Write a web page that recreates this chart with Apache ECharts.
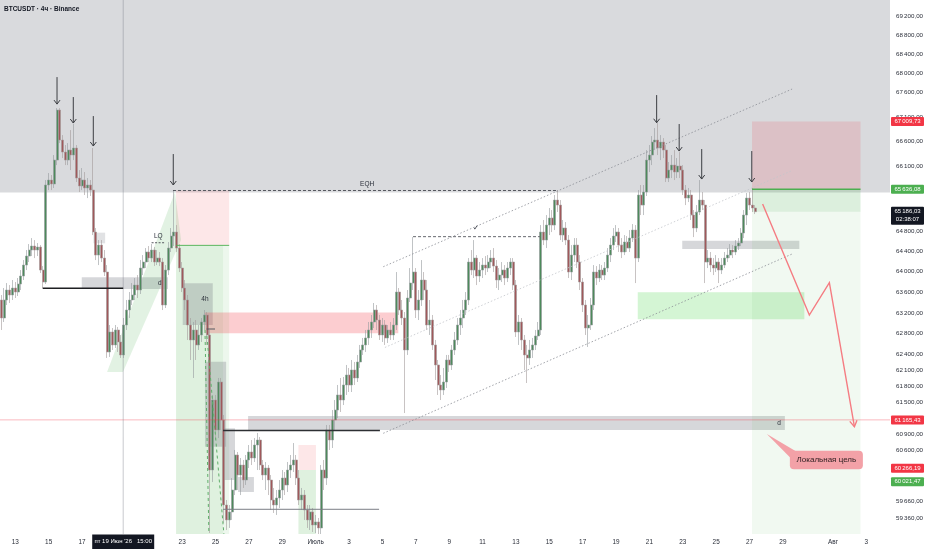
<!DOCTYPE html>
<html><head><meta charset="utf-8">
<script src="https://cdn.jsdelivr.net/npm/echarts@6/dist/echarts.min.js"></script>
<style>html,body{margin:0;padding:0;background:#fff}#c{width:932px;height:550px}</style>
</head><body><div id="c"></div>
<script>
// ---------- DATA (BTCUSDT 4h, Binance) ----------
const openP = [
63449,63101,63449,63643,63546,63682,63604,63760,63916,64131,
64308,64426,64505,64426,64485,64033,63799,65720,65820,65740,
66223,67243,66629,66385,66223,66426,66325,66467,65860,65700,
65820,65660,65720,65619,64781,64327,64524,64268,63994,62449,
62832,62583,62870,62640,62392,62966,63255,63449,63546,63740,
63643,64072,64190,64387,64268,64426,64190,64268,64190,63352,
64033,64465,64702,64781,64465,64072,63682,63449,62966,62678,
62870,62583,62774,63024,63159,62774,60235,61538,60977,61878,
61163,59594,59322,59467,59868,60512,60143,60327,60051,60420,
60568,60457,60697,60790,60327,60143,60272,60051,59685,59594,
59722,59868,60088,59960,60235,60327,60420,60088,59685,59776,
59503,59322,59467,59231,59286,59177,60235,60088,60977,60790,
61163,61350,61633,61538,61822,62011,61822,62106,61954,62258,
62487,62583,62717,62870,63024,63255,63062,62774,62966,62717,
62870,62774,62966,63604,63255,63101,62487,63488,63779,63994,
63255,63449,63838,63643,62966,63062,62583,62201,61822,61727,
61878,62296,62201,62487,62678,62966,63101,63255,63449,64190,
64033,64268,63916,64033,64131,64072,64190,64268,64111,63838,
63935,64033,63877,64072,64190,63740,62832,63024,62678,62392,
62335,62487,62583,62755,62870,64781,64623,64920,65060,64920,
65418,65318,64722,64861,64623,63994,64327,64524,64190,63799,
63352,62908,62966,63352,63994,63877,64033,63935,64072,64327,
64524,64702,64781,64524,64387,64584,64465,64662,64821,64268,
65519,65318,65579,66223,66325,66588,66629,66467,66588,66426,
65860,66021,66122,65981,66102,66021,65619,65458,65519,65119,
64861,65179,65418,65318,64190,64268,64131,64072,64190,64033,
64131,64268,64327,64426,64387,64505,64564,64762,65119,65458,
65318,65259];
const closeP = [
63101,63449,63643,63546,63682,63604,63760,63916,64131,64308,
64426,64505,64426,64485,64033,63799,65720,65820,65740,66223,
67243,66629,66385,66223,66426,66325,66467,65860,65700,65820,
65660,65720,65619,64781,64327,64524,64268,63994,62449,62832,
62583,62870,62640,62392,62966,63255,63449,63546,63740,63643,
64072,64190,64387,64268,64426,64190,64268,64190,63352,64033,
64465,64702,64781,64465,64072,63682,63449,62966,62678,62870,
62583,62774,63024,63159,62774,60235,61538,60977,61878,61163,
59594,59322,59467,59868,60512,60143,60327,60051,60420,60568,
60457,60697,60790,60327,60143,60272,60051,59685,59594,59722,
59868,60088,59960,60235,60327,60420,60088,59685,59776,59503,
59322,59467,59231,59286,59177,60235,60088,60977,60790,61163,
61350,61633,61538,61822,62011,61822,62106,61954,62258,62487,
62583,62717,62870,63024,63255,63062,62774,62966,62717,62870,
62774,62966,63604,63255,63101,62487,63488,63779,63994,63255,
63449,63838,63643,62966,63062,62583,62201,61822,61727,61878,
62296,62201,62487,62678,62966,63101,63255,63449,64190,64033,
64268,63916,64033,64131,64072,64190,64268,64111,63838,63935,
64033,63877,64072,64190,63740,62832,63024,62678,62392,62335,
62487,62583,62755,62870,64781,64623,64920,65060,64920,65418,
65318,64722,64861,64623,63994,64327,64524,64190,63799,63352,
62908,62966,63352,63994,63877,64033,63935,64072,64327,64524,
64702,64781,64524,64387,64584,64465,64662,64821,64268,65519,
65318,65579,66223,66325,66588,66629,66467,66588,66426,65860,
66021,66122,65981,66102,66021,65619,65458,65519,65119,64861,
65179,65418,65318,64190,64268,64131,64072,64190,64033,64131,
64268,64327,64426,64387,64505,64564,64762,65119,65458,65318,
65259,65186];
const lowP = [
62870,63024,63352,63391,63449,63488,63527,63643,63838,64033,
64190,64308,64268,64308,63975,63682,63760,65619,65619,65660,
66122,66568,66264,66122,66122,66021,66223,65780,65579,65619,
65519,65458,65499,64722,64229,64131,64190,63916,62335,62354,
62487,62525,62449,62335,62335,62870,63101,63352,63449,63488,
63566,63935,64072,64190,64190,64111,64131,64111,63255,63294,
63935,64387,64505,64387,63994,63604,63255,62678,62296,61954,
62296,62487,62640,62870,62583,59086,60014,60790,60827,60977,
59268,59140,59177,59322,59776,59868,59776,59905,59960,60272,
60327,60383,60235,60235,60051,59868,59776,59503,59449,59413,
59540,59685,59776,59831,60088,60198,59960,59594,59503,59322,
59177,59140,59104,59086,59068,59068,59868,59960,60605,60642,
60977,61200,61313,61444,61633,61689,61689,61822,61878,62144,
62392,62449,62583,62717,62908,62870,62678,62640,62583,62621,
62678,62678,62870,63159,62966,61294,62392,63410,63643,63101,
63062,63333,63449,62870,62774,62487,61916,61633,61538,61633,
61765,62068,62106,62392,62583,62774,62908,63159,63352,63935,
63877,63740,63799,63877,63935,63994,64072,63994,63682,63643,
63799,63740,63799,63935,63643,62736,62583,62487,62106,61859,
62201,62335,62487,62678,62774,64524,64465,64722,64781,64821,
65179,64623,64584,64524,63877,63838,64190,64072,63643,63216,
62774,62545,62870,63255,63740,63799,63838,63838,63994,64190,
64426,64584,64387,64268,64327,64387,64387,64584,63779,64190,
65119,65119,65499,65981,66122,66426,66325,66223,66264,65780,
65780,65860,65820,65860,65860,65519,65318,65378,65020,64682,
64781,65119,65219,63779,64072,63994,63935,63994,63779,63955,
64072,64190,64268,64268,64327,64426,64505,64662,64920,65219,
65179,65139];
const highP = [
63546,63682,63779,63740,63838,63799,63877,64033,64229,64426,
64544,64662,64623,64564,64524,64111,65820,65961,65921,66325,
67284,67284,66731,66528,66568,66833,66957,66528,66021,66062,
65981,65860,65820,66467,64861,64623,64623,64426,64131,62966,
62908,62966,62928,62774,63101,63449,63604,63779,63877,63935,
64229,64327,64465,64505,64544,64485,64426,64387,64268,64131,
64584,64861,65619,64920,64544,64190,63838,63546,63101,63024,
63062,62966,63101,63255,63216,62870,61633,61633,61954,61954,
61257,59685,59594,60088,60605,60568,60457,60420,60512,60697,
60790,60827,60921,60846,60420,60383,60327,60143,59905,59868,
60051,60235,60198,60383,60512,60734,60512,60235,59905,59868,
59594,59594,59540,59413,59358,60327,60420,61070,61070,61350,
61538,61822,61954,61973,62201,62144,62296,62258,62392,62583,
62717,62870,63024,63159,63391,63352,63159,63101,63062,62966,
63024,63101,63994,63682,63449,63216,63643,64072,64682,64072,
63643,64229,63994,63838,63449,63159,62678,62296,62011,62144,
62392,62392,62583,62832,63101,63255,63449,63604,64268,64426,
64623,64327,64190,64268,64308,64327,64426,64465,64229,64072,
64190,64131,64190,64268,64268,63838,63159,63101,62774,62583,
62678,62717,62870,63024,64920,65020,65119,65259,65219,65519,
65619,65418,65020,64980,64722,64524,64662,64662,64327,63877,
63449,63159,63488,64131,64111,64150,64131,64190,64465,64662,
64861,64920,64861,64662,64722,64702,64821,64940,64920,65619,
65720,65720,66426,66528,66711,66874,66977,66731,66670,66528,
66183,66325,66426,66264,66385,66122,65720,65660,65619,65219,
65318,65820,65579,65418,64426,64387,64268,64327,64268,64268,
64387,64465,64544,64524,64623,64662,64861,65219,65559,65579,
65660,65318];

// price-axis tick labels and x-axis tick labels
const yTicks = [69200,68800,68400,68000,67600,67100,66600,66100,64800,64400,64000,63600,63200,62800,62400,62100,61800,61500,60900,60600,59660,59360];
const xTickDates = ['2026-06-13','2026-06-15','2026-06-17','2026-06-23','2026-06-25','2026-06-27','2026-06-29','2026-07-01','2026-07-03','2026-07-05','2026-07-07','2026-07-09','2026-07-11','2026-07-13','2026-07-15','2026-07-17','2026-07-19','2026-07-21','2026-07-23','2026-07-25','2026-07-27','2026-07-29','2026-08-01','2026-08-03'];
const xTickLabels = ['13','15','17','23','25','27','29','Июль','3','5','7','9','11','13','15','17','19','21','23','25','27','29','Авг','3'];

// price tags on the right scale
const tagValues = [67009.73, 65636.08, 61165.43, 60266.19, 60021.47];
const tagKinds  = ['r','g','r','r','g'];
const lastPrice = 65186.03;
const countdown = '02:38:07';

// ---------- AXIS STRUCTURE ----------
const START = Date.UTC(2026,5,12,4);
const STEP = 4*3600*1000;
const NCAT = 320;
const categories = [];
for (let i=0;i<NCAT;i++){ const d=new Date(START+i*STEP); categories.push(d.toISOString().slice(0,13)); }
const tickMap = {};
xTickDates.forEach((d,k)=>{ const idx=Math.round((Date.parse(d+'T00:00:00Z')-START)/STEP); tickMap[idx]=xTickLabels[k]; });
const Y_MIN = 59068, Y_MAX = 69545;

const candles = openP.map((o,i)=>[o, closeP[i], lowP[i], highP[i]]);

function fmtPrice(v){
  const s = Number(v).toFixed(2).split('.');
  return s[0].replace(/\B(?=(\d{3})+(?!\d))/g,'\u2009') + ',' + s[1];
}

const FONT = '"Liberation Sans", Arial, sans-serif';
const chart = echarts.init(document.getElementById('c'), null, {renderer:'canvas'});
chart.setOption({
  animation:false,
  backgroundColor:'#ffffff',
  textStyle:{fontFamily:FONT},
  grid:{left:0, right:42, top:0, bottom:16, containLabel:false},
  xAxis:[{
    type:'category', data:categories, boundaryGap:true,
    axisLine:{show:false}, axisTick:{show:false}, splitLine:{show:false},
    axisLabel:{interval:(idx)=>tickMap[idx]!==undefined, formatter:(v,idx)=>tickMap[idx]||'',
      fontSize:6.4, color:'#2a2e39', margin:5, fontFamily:FONT}
  },{
    type:'value', min:-0.5, max:NCAT-0.5, show:false
  }],
  yAxis:[{
    type:'log', logBase:10, min:Y_MIN, max:Y_MAX, position:'right',
    axisLine:{show:false}, axisTick:{show:false}, splitLine:{show:false},
    axisLabel:{customValues:yTicks, formatter:v=>fmtPrice(v), fontSize:6.2, color:'#2a2e39', margin:6, fontFamily:FONT}
  }],
  series:[{
    type:'candlestick', name:'BTCUSDT', xAxisIndex:0, yAxisIndex:0, data:candles,
    barWidth:2.5, z:5,
    itemStyle:{color:'#4d8a5b', color0:'#a0585b', borderColor:'#969a9e', borderColor0:'#a29a9b', borderWidth:0.6}
  }]
});

// ---------- DRAWINGS (in data coordinates: bar index, price) ----------
const GREY='rgba(120,123,134,0.3)';
const zones = [
  {x:[-0.5,319.5], y:[65570,Y_MAX], fill:'rgba(120,123,134,0.28)'},
  {x:[62.8,81.9], y:[64518,65615], fill:'rgba(242,54,69,0.12)'},
  {x:[62.8,79.7], y:[Y_MIN,64518], fill:'rgba(76,175,80,0.18)'},
  {x:[79.7,81.9], y:[Y_MIN,64518], fill:'rgba(76,175,80,0.10)'},
  {x:[28.9,59.9], y:[63662,63894], fill:GREY},
  {x:[33.1,37.3], y:[64558,64769], fill:'rgba(120,123,134,0.22)'},
  {x:[65.2,76.0], y:[62966,63773], fill:GREY},
  {x:[73.2,142.7], y:[62808,63206], fill:'rgba(242,54,69,0.25)'},
  {x:[73.2,80.8], y:[60667,62264], fill:GREY},
  {x:[79.7,84.0], y:[60051,61008], fill:GREY},
  {x:[85.1,90.8], y:[59831,60106], fill:GREY},
  {x:[106.8,113.1], y:[60235,60697], fill:'rgba(242,54,69,0.12)'},
  {x:[106.8,113.1], y:[Y_MIN,60235], fill:'rgba(76,175,80,0.18)'},
  {x:[88.7,281.7], y:[60977,61238], fill:GREY},
  {x:[244.8,286.9], y:[64446,64609], fill:GREY},
  {x:[228.8,288.7], y:[63075,63598], fill:'rgba(60,210,60,0.22)'},
  {x:[269.9,308.9], y:[65636.08,67009.73], fill:'rgba(242,54,69,0.15)'},
  {x:[269.9,308.9], y:[Y_MIN,65636.08], fill:'rgba(76,175,80,0.08)'},
  {x:[269.9,308.9], y:[65186.03,65636.08], fill:'rgba(76,175,80,0.12)'}
];
const polys = [
  {pts:[[38.0,62068],[62.4,65579],[64.6,64623],[43.7,62068]], fill:'rgba(76,175,80,0.16)'}
];
const lines = [
  {p:[[-0.5,61165.43],[319.5,61165.43]], c:'rgba(242,54,69,0.35)', w:1},
  {p:[[43.8,Y_MAX],[43.8,Y_MIN]], c:'rgba(120,123,134,0.4)', w:1},
  {p:[[61.7,65610],[200.1,65610]], c:'#55585f', w:1, d:[3,2]},
  {p:[[148,64690],[193.7,64690]], c:'#66696f', w:1, d:[3,2]},
  {p:[[137.3,64098],[284.3,67677]], c:'#8a8d94', w:0.8, d:[1.5,2]},
  {p:[[137.9,62535],[284.3,66011]], c:'#c3c5ca', w:0.8, d:[1.5,2]},
  {p:[[137.3,60915],[284.3,64348]], c:'#8a8d94', w:0.8, d:[1.5,2]},
  {p:[[14.85,63676],[43.8,63676]], c:'#1e1f22', w:1.5},
  {p:[[79.7,60967],[136.1,60967]], c:'#2d2f33', w:1.5},
  {p:[[79.7,59516],[135.8,59516]], c:'#7b7e85', w:1},
  {p:[[54.0,64570],[58.8,64570]], c:'#55585f', w:1, d:[2,1.5]},
  {p:[[62.8,64518],[81.9,64518]], c:'rgba(76,175,80,0.9)', w:1},
  {p:[[73.2,62870],[74.6,59086]], c:'#5fae6a', w:1, d:[3,3]},
  {p:[[73.9,62755],[80.0,59068]], c:'#5fae6a', w:1, d:[3,3]},
  {p:[[73.8,62889],[76.8,62889]], c:'#55585f', w:1},
  {p:[[269.9,65636.08],[308.9,65636.08]], c:'#4caf50', w:1.5}
];
const downArrows = [
  [20.0,67925,67366],[25.85,67511,66977],[33.05,67120,66508],[61.8,66345,65720],
  [235.6,67552,66983],[243.7,66957,66406],[251.8,66446,65840],[269.8,66406,65780]
];
const redPath = [[273.7,65338],[290.5,63159],[297.7,63785],[306.7,61039]];
const labels = [
  {t:'EQH', x:131.5, y:65740},
  {t:'✓', x:170.7, y:64850},
  {t:'LQ', x:56.4, y:64700},
  {t:'d', x:57.0, y:63779},
  {t:'4h', x:73.2, y:63463},
  {t:'d', x:279.6, y:61107}
];
const callout = {t:'Локальная цель', x:283.5, y:60592, tipX:275.2, tipY:60902};

function draw(){
  const X = v => chart.convertToPixel({xAxisIndex:1}, v);
  const Y = p => chart.convertToPixel({yAxisIndex:0}, p);
  const els = [];
  zones.forEach(z=>{
    const x1=X(z.x[0]), x2=X(z.x[1]), y1=Y(z.y[1]), y2=Y(z.y[0]);
    els.push({type:'rect', z:1, silent:true, shape:{x:x1,y:y1,width:x2-x1,height:y2-y1}, style:{fill:z.fill}});
  });
  polys.forEach(p=>{
    els.push({type:'polygon', z:1, silent:true, shape:{points:p.pts.map(q=>[X(q[0]),Y(q[1])])}, style:{fill:p.fill}});
  });
  lines.forEach(l=>{
    els.push({type:'polyline', z:10, silent:true, shape:{points:l.p.map(q=>[X(q[0]),Y(q[1])])},
      style:{stroke:l.c, lineWidth:l.w, lineDash:l.d||null, fill:null}});
  });
  downArrows.forEach(a=>{
    const x=X(a[0]), y1=Y(a[1]), y2=Y(a[2]);
    els.push({type:'line', z:10, silent:true, shape:{x1:x,y1:y1,x2:x,y2:y2}, style:{stroke:'#3c3e43', lineWidth:1}});
    els.push({type:'polyline', z:10, silent:true, shape:{points:[[x-3,y2-4],[x,y2],[x+3,y2-4]]}, style:{stroke:'#3c3e43', lineWidth:1, fill:null}});
  });
  const rp = redPath.map(q=>[X(q[0]),Y(q[1])]);
  els.push({type:'polyline', z:10, silent:true, shape:{points:rp}, style:{stroke:'#f57c82', lineWidth:1.4, fill:null}});
  (function(){
    const a=rp[rp.length-2], b=rp[rp.length-1];
    const ang=Math.atan2(b[1]-a[1], b[0]-a[0]); const L=7, s=0.55;
    const w1=[b[0]-L*Math.cos(ang-s), b[1]-L*Math.sin(ang-s)];
    const w2=[b[0]-L*Math.cos(ang+s), b[1]-L*Math.sin(ang+s)];
    els.push({type:'polyline', z:10, silent:true, shape:{points:[w1,b,w2]}, style:{stroke:'#f57c82', lineWidth:1.4, fill:null}});
  })();
  labels.forEach(l=>{
    els.push({type:'text', z:11, silent:true, x:X(l.x), y:Y(l.y),
      style:{text:l.t, fill:'#2a2e39', font:'6.5px '+FONT, textAlign:'center', textVerticalAlign:'middle'}});
  });
  // callout
  const bx=X(callout.x), by=Y(callout.y), bw=73, bh=18.6;
  els.push({type:'polygon', z:11, silent:true, shape:{points:[[X(callout.tipX),Y(callout.tipY)],[bx+6,by+0.5],[bx+0.5,by+7]]}, style:{fill:'#f3a1a7'}});
  els.push({type:'rect', z:11, silent:true, shape:{x:bx,y:by,width:bw,height:bh,r:4}, style:{fill:'#f3a1a7'}});
  els.push({type:'text', z:12, silent:true, x:bx+bw/2, y:by+bh/2, style:{text:callout.t, fill:'#2b1d1f', font:'8px '+FONT, textAlign:'center', textVerticalAlign:'middle'}});
  // title
  els.push({type:'text', z:12, silent:true, x:4, y:9, style:{text:'BTCUSDT · 4ч · Binance', fill:'#131722', font:'bold 6.5px '+FONT, textVerticalAlign:'middle'}});
  // crosshair time label
  const cx = X(43.8);
  els.push({type:'rect', z:12, silent:true, shape:{x:cx-31,y:534.5,width:62,height:14.5}, style:{fill:'#131722'}});
  els.push({type:'text', z:13, silent:true, x:cx, y:541.8, style:{text:"пт 19 Июн '26   15:00", fill:'#ffffff', font:'6px '+FONT, textAlign:'center', textVerticalAlign:'middle'}});
  // price tags
  tagValues.forEach((v,k)=>{
    const y=Y(v);
    els.push({type:'rect', z:20, silent:true, shape:{x:891,y:y-4.5,width:33,height:9,r:1}, style:{fill:tagKinds[k]==='r'?'#f23645':'#4caf50'}});
    els.push({type:'text', z:21, silent:true, x:907.5, y:y, style:{text:fmtPrice(v), fill:'#ffffff', font:'6px '+FONT, textAlign:'center', textVerticalAlign:'middle'}});
  });
  const ly=Y(lastPrice);
  els.push({type:'rect', z:20, silent:true, shape:{x:891,y:ly-5,width:33,height:18,r:1}, style:{fill:'#131722'}});
  els.push({type:'text', z:21, silent:true, x:907.5, y:ly, style:{text:fmtPrice(lastPrice), fill:'#ffffff', font:'6px '+FONT, textAlign:'center', textVerticalAlign:'middle'}});
  els.push({type:'text', z:21, silent:true, x:907.5, y:ly+8, style:{text:countdown, fill:'#ffffff', font:'6px '+FONT, textAlign:'center', textVerticalAlign:'middle'}});
  chart.setOption({graphic:{elements:els}});
}
draw();
</script>
</body></html>
